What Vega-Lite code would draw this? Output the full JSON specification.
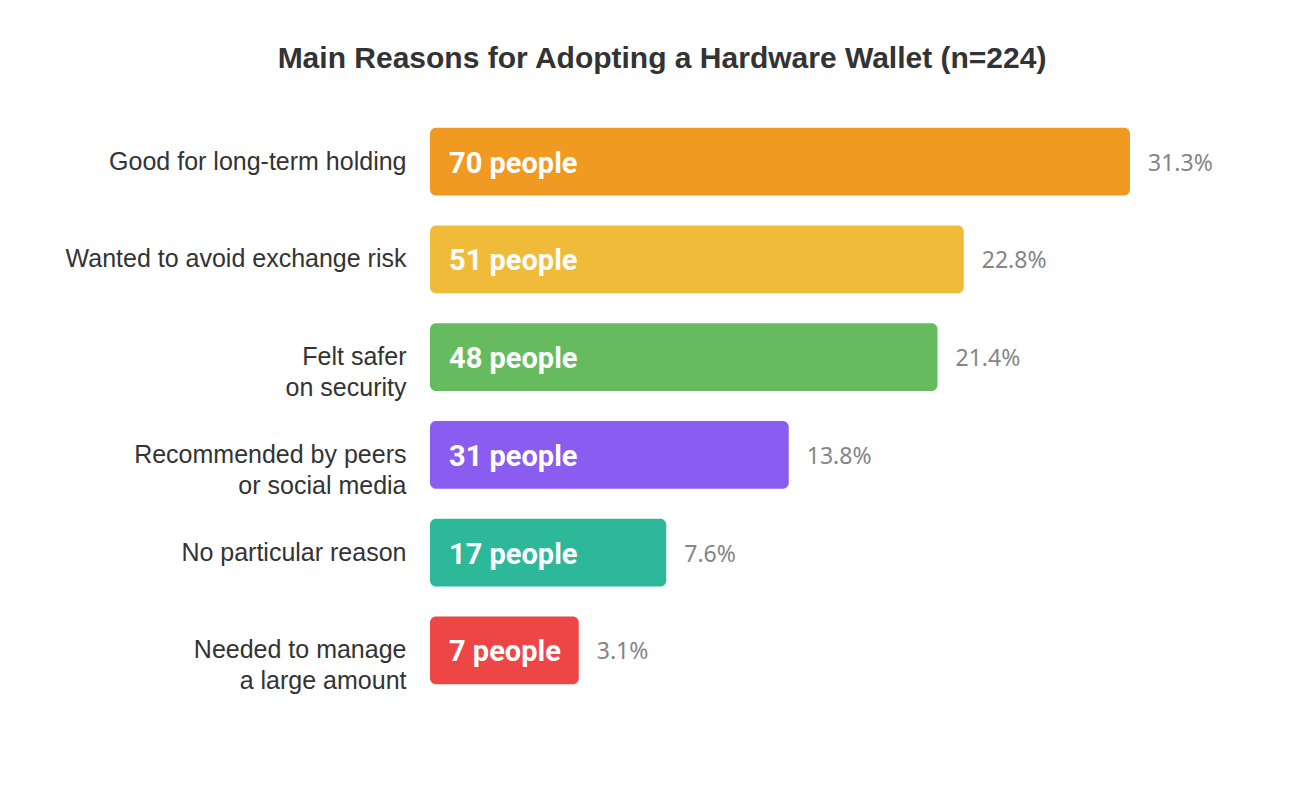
{
  "$schema": "https://vega.github.io/schema/vega-lite/v6.json",
  "autosize": {"type": "none"},
  "padding": {"left": 430, "top": 112, "right": 167, "bottom": 106},
  "width": 700,
  "height": 588,
  "background": "white",
  "view": {"stroke": null},
  "title": {
    "text": "Main Reasons for Adopting a Hardware Wallet (n=224)",
    "font": "Liberation Sans",
    "fontSize": 30,
    "fontWeight": "bold",
    "color": "#333333",
    "anchor": "middle",
    "dx": -118,
    "offset": 38
  },
  "data": {
    "values": [
      {"reason": "Good for long-term holding", "count": 70, "label": "70 people", "pct": "31.3%", "color": "#F09A22"},
      {"reason": "Wanted to avoid exchange risk", "count": 51, "label": "51 people", "pct": "22.8%", "color": "#F0BB38"},
      {"reason": "Felt safer\non security", "count": 48, "label": "48 people", "pct": "21.4%", "color": "#66BB5E"},
      {"reason": "Recommended by peers\nor social media", "count": 31, "label": "31 people", "pct": "13.8%", "color": "#8B5CF0"},
      {"reason": "No particular reason", "count": 17, "label": "17 people", "pct": "7.6%", "color": "#2DB89A"},
      {"reason": "Needed to manage\na large amount", "count": 7, "label": "7 people", "pct": "3.1%", "color": "#EE4646"}
    ]
  },
  "encoding": {
    "y": {
      "field": "reason",
      "type": "nominal",
      "sort": null,
      "title": null,
      "scale": {"paddingInner": 0.306, "paddingOuter": 0.16},
      "axis": {
        "domain": false,
        "ticks": false,
        "labelPadding": 24,
        "labelLimit": 0,
        "labelFont": "Liberation Sans",
        "labelFontSize": 25,
        "labelColor": "#333333",
        "labelLineHeight": 31,
        "labelExpr": "split(datum.value, '\\n')"
      }
    }
  },
  "layer": [
    {
      "mark": {"type": "bar", "cornerRadius": 6},
      "encoding": {
        "x": {
          "field": "count",
          "type": "quantitative",
          "scale": {"domain": [-10, 70], "zero": false, "nice": false},
          "axis": null
        },
        "x2": {"datum": -10},
        "color": {"field": "color", "type": "nominal", "scale": null}
      }
    },
    {
      "mark": {
        "type": "text",
        "align": "left",
        "baseline": "middle",
        "dx": 19,
        "dy": 2,
        "font": "Roboto",
        "fontSize": 29,
        "fontWeight": "bold",
        "color": "white"
      },
      "encoding": {
        "x": {"datum": -10},
        "text": {"field": "label", "type": "nominal"}
      }
    },
    {
      "mark": {
        "type": "text",
        "align": "left",
        "baseline": "middle",
        "dx": 18,
        "dy": 2,
        "font": "Noto Sans",
        "fontSize": 23,
        "color": "#858585"
      },
      "encoding": {
        "x": {"field": "count", "type": "quantitative"},
        "text": {"field": "pct", "type": "nominal"}
      }
    }
  ]
}
